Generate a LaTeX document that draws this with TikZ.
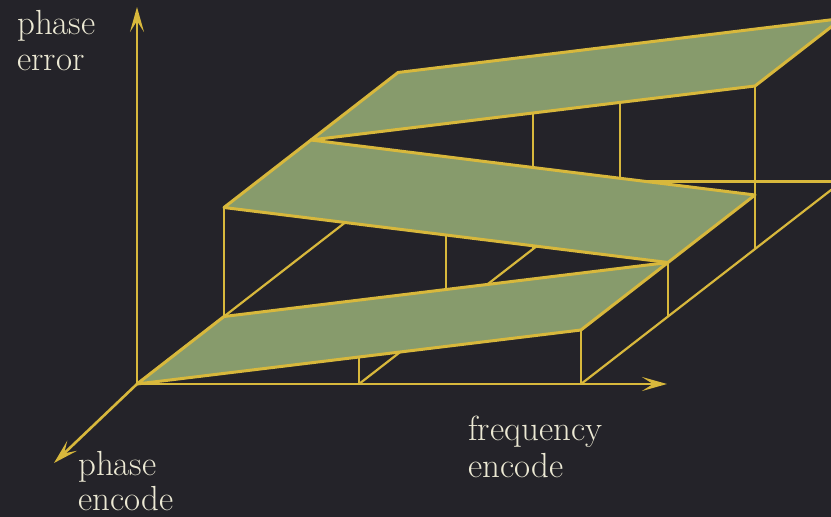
\documentclass[tikz,border=0pt]{standalone}
\usetikzlibrary{arrows.meta}
\definecolor{bgdark}{RGB}{36,35,41}
\definecolor{gold}{RGB}{216,184,60}
\definecolor{sage}{RGB}{135,155,108}
\definecolor{cream}{RGB}{236,233,212}
\tikzset{
  gridline/.style={draw=gold, line width=2.2bp},
  plane/.style={fill=sage, draw=gold, line width=3bp, line join=round},
  axis/.style={draw=gold, line width=2.6bp, -{Stealth[length=25bp,width=14bp,inset=11bp]}},
  lbl/.style={text=cream, inner sep=0pt, anchor=north west, align=left,
              font=\fontsize{35}{36.5}\selectfont},
}
\begin{document}
\begin{tikzpicture}[x={(444bp,0bp)}, y={(87bp,67.5bp)}, z={(0bp,1bp)}]
  \useasboundingbox (-137bp,-133bp) rectangle (694bp,384bp);
  \clip (-137bp,-133bp) rectangle (694bp,384bp);
  \fill[bgdark] (-137bp,-133bp) rectangle (694bp,384bp);

  % floor points
  \coordinate (O)  at (0,0,0);
  \coordinate (M0) at (0.5,0,0);
  \coordinate (E0) at (1,0,0);
  \coordinate (L1) at (0,1,0);
  \coordinate (M1) at (0.5,1,0);
  \coordinate (E1) at (1,1,0);
  \coordinate (M2) at (0.5,2,0);
  \coordinate (E2) at (1,2,0);
  \coordinate (L3) at (0,3,0);
  \coordinate (M3) at (0.5,3,0);
  \coordinate (E3) at (1,3,0);

  % plane corners
  \coordinate (b10) at (1,0,54);
  \coordinate (b11) at (1,1,54);
  \coordinate (m01) at (0,1,109);
  \coordinate (m02) at (0,2,109);
  \coordinate (m12) at (1,2,54);
  \coordinate (t12) at (1,2,163);
  \coordinate (t13) at (1,3,163);
  \coordinate (t03) at (0,3,109);

  % tops of middle verticals
  \coordinate (v0) at (0.5,0,27);
  \coordinate (v1) at (0.5,1,81.5);
  \coordinate (v2) at (0.5,2,136);
  \coordinate (v3) at (0.5,3,136);

  % axis tips
  \coordinate (zt) at (0bp,377bp);
  \coordinate (xt) at (530bp,0bp);
  \coordinate (yt) at (-83bp,-79bp);

  % floor lines
  \draw[gridline] (O) -- (L3);
  \draw[gridline] (M0) -- (M3);
  \draw[gridline] (E0) -- (E3);
  \draw[gridline] (L3) -- (E3);

  % vertical lines
  \draw[gridline] (M0) -- (v0);
  \draw[gridline] (E0) -- (b10);
  \draw[gridline] (L1) -- (m01);
  \draw[gridline] (M1) -- (v1);
  \draw[gridline] (E1) -- (b11);
  \draw[gridline] (M2) -- (v2);
  \draw[gridline] (E2) -- (t12);
  \draw[gridline] (M3) -- (v3);

  % planes
  \draw[plane] (O) -- (b10) -- (b11) -- (L1) -- cycle;
  \draw[plane] (m01) -- (b11) -- (m12) -- (m02) -- cycle;
  \draw[plane] (m02) -- (t12) -- (t13) -- (t03) -- cycle;

  % axes
  \draw[axis] (O) -- (zt);
  \draw[axis] (O) -- (xt);
  \draw[axis] (O) -- (yt);

  % labels
  \node[lbl] (lz) at (-120bp,374bp) {phase\\error};
  \node[lbl] (lx) at (331bp,-32bp) {frequency\\encode};
  \node[lbl, font=\fontsize{35}{35}\selectfont] (ly) at (-59bp,-67bp) {phase\\encode};
\end{tikzpicture}
\end{document}
